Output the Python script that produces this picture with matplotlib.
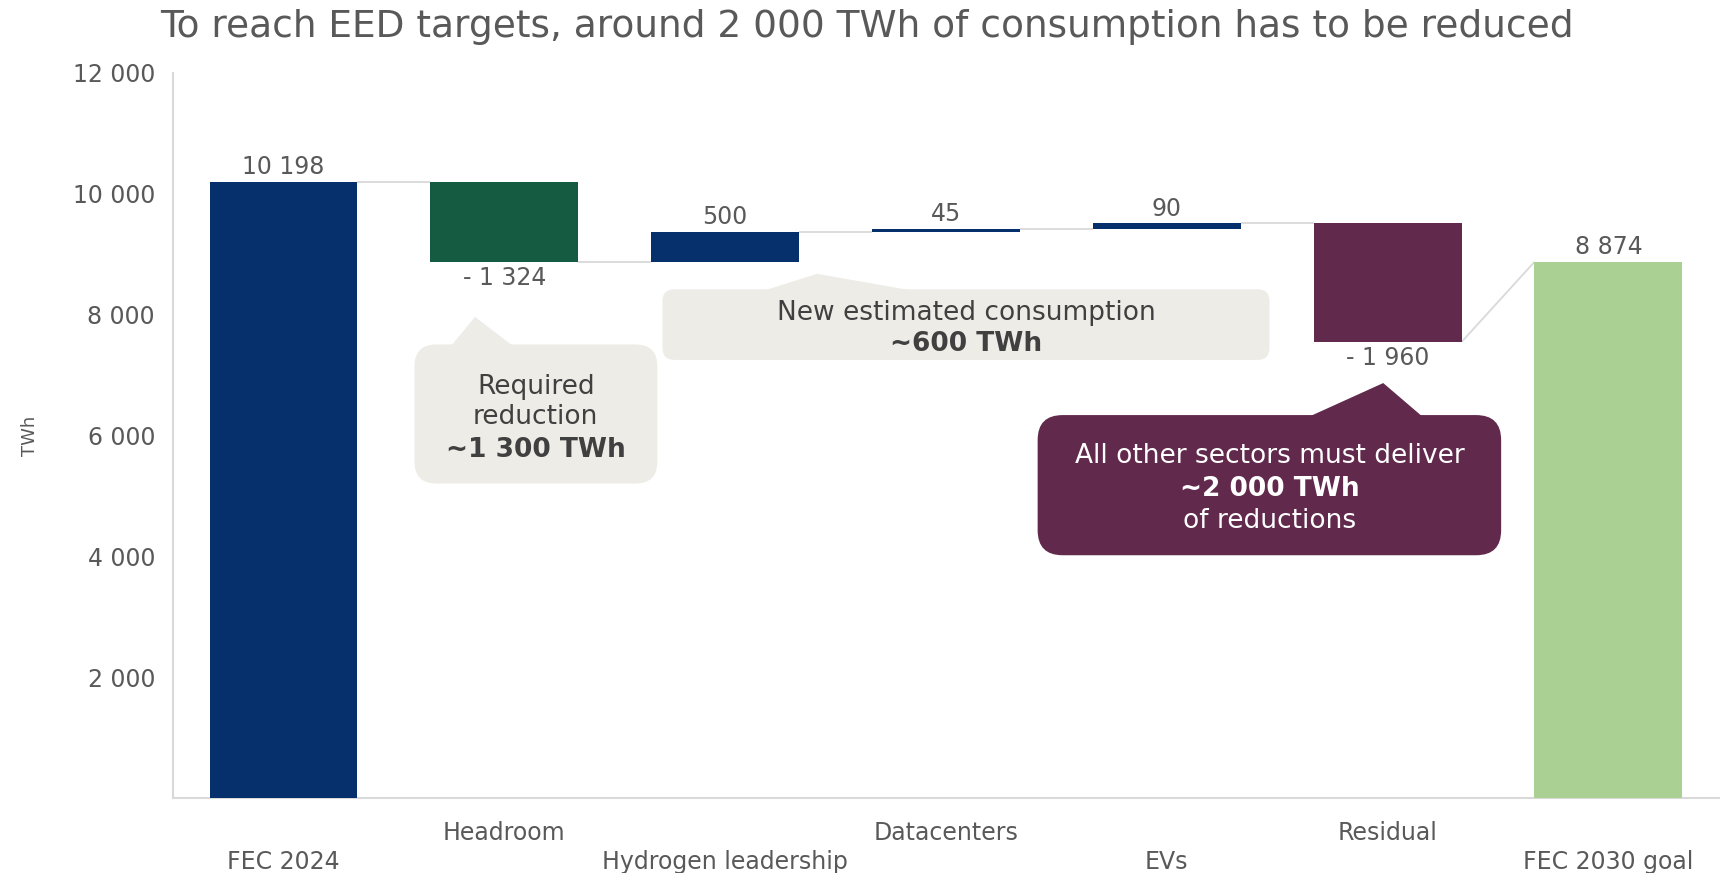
import matplotlib
matplotlib.use("Agg")
import matplotlib.pyplot as plt
from matplotlib.patches import FancyBboxPatch, Polygon
from matplotlib.transforms import IdentityTransform

plt.rcParams['font.family'] = ['DejaVu Sans']

# ---- data ----
categories = ["FEC 2024", "Headroom", "Hydrogen leadership", "Datacenters",
              "EVs", "Residual", "FEC 2030 goal"]
values = [10198, -1324, 500, 45, 90, -1960, 8874]
is_total = [True, False, False, False, False, False, True]
bar_colors = ["#06306B", "#145B41", "#06306B", "#06306B", "#06306B",
              "#61294C", "#ABD094"]
y_ticks = [2000, 4000, 6000, 8000, 10000, 12000]

title = "To reach EED targets, around 2 000 TWh of consumption has to be reduced"

TXT = "#595959"
GRID = "#D9D9D9"
BOX_GRAY = "#EDECE7"
BOX_TXT = "#404040"


def fmt(v):
    s = f"{abs(v):,}".replace(",", " ")
    return f"- {s}" if v < 0 else s


# ---- waterfall geometry ----
bottoms, heights, ends = [], [], []
level = 0
for v, tot in zip(values, is_total):
    if tot:
        bottoms.append(0)
        heights.append(v)
        level = v
    else:
        bottoms.append(level if v > 0 else level + v)
        heights.append(abs(v))
        level = level + v
    ends.append(level)

fig = plt.figure(figsize=(17.31, 8.73), dpi=100)
ax = fig.add_axes([0.1, 0.0859, 0.893, 0.8305])

W = 0.67
x = list(range(len(categories)))
ax.bar(x, heights, bottom=bottoms, width=W, color=bar_colors, zorder=3)

# connectors between consecutive bars
for i in range(len(values) - 1):
    y0 = ends[i]
    y1 = values[i + 1] if is_total[i + 1] else ends[i]
    ax.plot([i + W / 2, i + 1 - W / 2], [y0, y1], color=GRID, lw=1.3,
            zorder=2, solid_capstyle='butt')

# value labels
for i, v in enumerate(values):
    if v >= 0:
        top = bottoms[i] + heights[i]
        ax.annotate(fmt(v), (i, top), xytext=(0, 2), textcoords='offset points',
                    ha='center', va='bottom', fontsize=17, color=TXT)
    else:
        ax.annotate(fmt(v), (i, bottoms[i]), xytext=(0, -3),
                    textcoords='offset points', ha='center', va='top',
                    fontsize=17, color=TXT)

ax.set_xlim(-0.5, len(categories) - 0.5)
ax.set_ylim(0, 12000)
ax.set_yticks(y_ticks)
ax.set_yticklabels([fmt(t) for t in y_ticks], fontsize=17, color=TXT)
ax.set_xticks([])
ax.tick_params(axis='y', length=0, pad=13)
for s in ("top", "right"):
    ax.spines[s].set_visible(False)
for s in ("left", "bottom"):
    ax.spines[s].set_color(GRID)
    ax.spines[s].set_linewidth(1.5)

# staggered category labels
for i, c in enumerate(categories):
    off = -25.5 if i % 2 == 1 else -46
    ax.annotate(c, (i, 0), xycoords=('data', 'axes fraction'),
                xytext=(0, off), textcoords='offset points',
                ha='center', va='center', fontsize=17, color=TXT)

ax.set_ylabel("TWh", fontsize=13, color=TXT)
ax.yaxis.set_label_coords(-0.087, 0.5)

fig.text(0.501, 0.969, title, ha='center', va='center', fontsize=27, color=TXT)


# ---- callouts (rounded box with pointer) ----
def callout(x0, x1, y0, y1, pointer, color, radius):
    p0 = ax.transData.transform((x0, y0))
    p1 = ax.transData.transform((x1, y1))
    box = FancyBboxPatch((p0[0], p0[1]), p1[0] - p0[0], p1[1] - p0[1],
                         boxstyle=f"round,pad=0,rounding_size={radius}",
                         transform=IdentityTransform(), fc=color, ec='none',
                         zorder=4)
    ax.add_artist(box)
    pts = ax.transData.transform(pointer)
    pts[1:, 1] -= 2
    tri = Polygon(pts, closed=True, transform=IdentityTransform(),
                  fc=color, ec='none', zorder=4)
    ax.add_artist(tri)


callout(0.593, 1.693, 5205, 7507,
        [(0.867, 7963), (0.757, 7507), (1.042, 7507)], BOX_GRAY, 22)
callout(1.716, 4.465, 7251, 8420,
        [(2.416, 8676), (2.166, 8420), (2.866, 8420)], BOX_GRAY, 12)
callout(3.415, 5.514, 4018, 6338,
        [(4.98, 6868), (4.64, 6338), (5.16, 6338)], "#61294C", 25)

dy = -40
ax.text(1.142, 6849 + dy, "Required", ha='center', va='center', fontsize=19,
        color=BOX_TXT, zorder=5)
ax.text(1.142, 6338 + dy, "reduction", ha='center', va='center', fontsize=19,
        color=BOX_TXT, zorder=5)
ax.text(1.142, 5808 + dy, "~1 300 TWh", ha='center', va='center', fontsize=19,
        fontweight='bold', color=BOX_TXT, zorder=5)

ax.text(3.091, 8073 + dy, "New estimated consumption", ha='center',
        va='center', fontsize=19, color=BOX_TXT, zorder=5)
ax.text(3.091, 7562 + dy, "~600 TWh", ha='center', va='center', fontsize=19,
        fontweight='bold', color=BOX_TXT, zorder=5)

ax.text(4.465, 5699 + dy, "All other sectors must deliver", ha='center',
        va='center', fontsize=19, color='white', zorder=5)
ax.text(4.465, 5151 + dy, "~2 000 TWh", ha='center', va='center', fontsize=19,
        fontweight='bold', color='white', zorder=5)
ax.text(4.465, 4621 + dy, "of reductions", ha='center', va='center',
        fontsize=19, color='white', zorder=5)

fig.savefig("out.png", dpi=100)
